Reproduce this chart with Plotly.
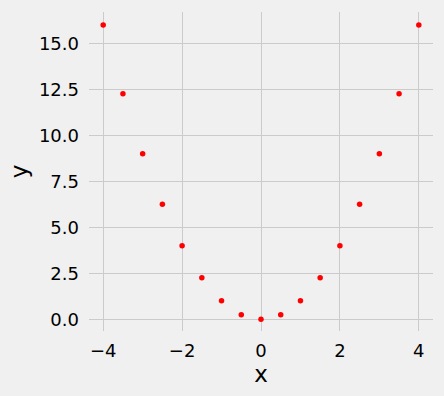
import plotly.graph_objects as go

x_vals = [-4.0, -3.5, -3.0, -2.5, -2.0, -1.5, -1.0, -0.5, 0.0, 0.5, 1.0, 1.5, 2.0, 2.5, 3.0, 3.5, 4.0]
y_vals = [16.0, 12.25, 9.0, 6.25, 4.0, 2.25, 1.0, 0.25, 0.0, 0.25, 1.0, 2.25, 4.0, 6.25, 9.0, 12.25, 16.0]
x_ticks = [-4, -2, 0, 2, 4]
x_ticktext = ["−4", "−2", "0", "2", "4"]
y_ticks = [0, 2.5, 5, 7.5, 10, 12.5, 15]
y_ticktext = ["0.0", "2.5", "5.0", "7.5", "10.0", "12.5", "15.0"]

fig = go.Figure(go.Scatter(x=x_vals, y=y_vals, mode="markers",
                           marker=dict(color="red", size=5.5, line=dict(width=0))))
font = "DejaVu Sans"
fig.update_layout(
    width=444, height=396,
    margin=dict(l=89, r=11, t=12, b=65),
    paper_bgcolor="#f0f0f0", plot_bgcolor="#f0f0f0",
    font=dict(family=font, size=18, color="black"),
    showlegend=False,
)
fig.update_xaxes(range=[-4.36, 4.36], tickvals=x_ticks, ticktext=x_ticktext,
                 showgrid=True, gridcolor="#cbcbcb", gridwidth=1.3, zeroline=False,
                 showline=False, ticks="", ticklabelstandoff=7,
                 title=dict(text="x", font=dict(size=23, family=font), standoff=4))
fig.update_yaxes(range=[-0.64, 16.7], tickvals=y_ticks, ticktext=y_ticktext,
                 showgrid=True, gridcolor="#cbcbcb", gridwidth=1.3, zeroline=False,
                 showline=False, ticks="", ticklabelstandoff=9,
                 title=dict(text="y", font=dict(size=23, family=font), standoff=4))
fig.write_html("out.html")
